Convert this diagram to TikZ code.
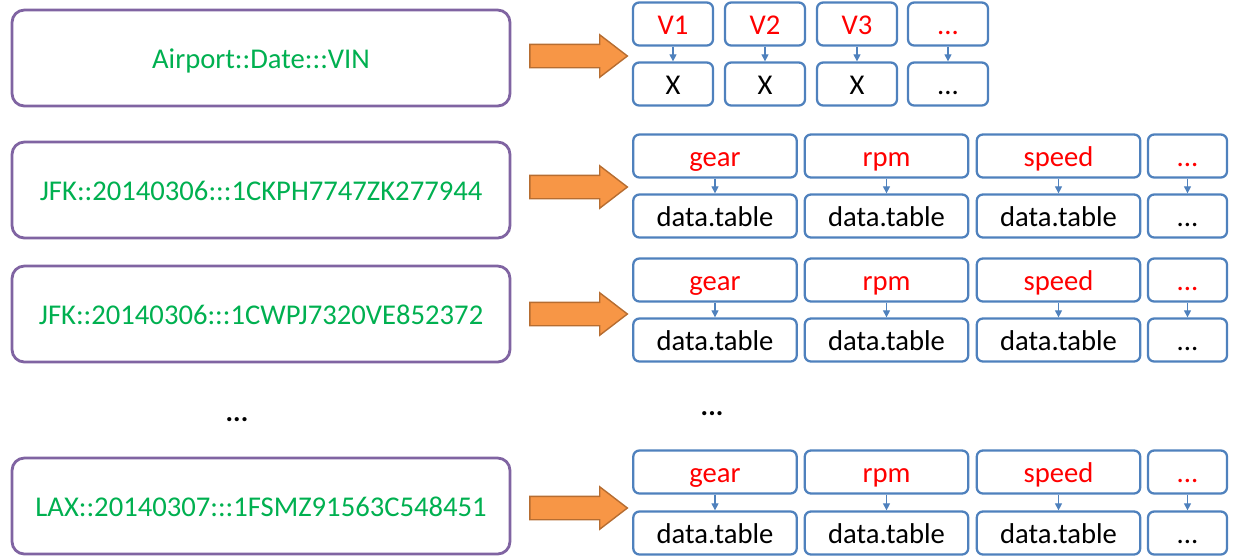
\documentclass[tikz,border=0pt]{standalone}
\usepackage{fontspec}
\setmainfont{Carlito}
\usetikzlibrary{shapes.arrows,arrows.meta}

\definecolor{keyline}{RGB}{128,100,162}
\definecolor{keytext}{RGB}{0,176,80}
\definecolor{cellline}{RGB}{79,129,189}
\definecolor{bigorange}{RGB}{247,150,70}
\definecolor{bigorangeline}{RGB}{182,109,49}

\tikzset{
  keybox/.style={draw=keyline, line width=1.6pt, rounded corners=7pt,
    minimum width=9.96cm, minimum height=1.92cm, text=keytext,
    text height=11.6pt, text depth=0pt,
    font=\fontsize{16.3}{18}\selectfont},
  namecell/.style={draw=cellline, line width=1.3pt, rounded corners=3.5pt,
    minimum height=0.86cm, text=red, text height=11.6pt, text depth=0pt,
    font=\fontsize{16.3}{18}\selectfont},
  valcell/.style={namecell, text=black},
  narrow/.style={minimum width=1.6cm},
  wide/.style={minimum width=3.27cm},
  tailcell/.style={minimum width=1.58cm},
  bigarrow/.style={single arrow, draw=bigorangeline, fill=bigorange,
    line width=0.8pt, inner xsep=0pt, inner ysep=0.22cm,
    minimum height=1.95cm, single arrow head extend=0.19cm,
    single arrow tip angle=75},
  cellarrow/.style={draw=cellline, line width=0.6pt,
    -{Triangle[length=4pt,width=4pt]}}
}

\begin{document}
\begin{tikzpicture}[x=0.02cm, y=-0.02cm]
      \useasboundingbox (0,0) rectangle (1233,556);

      % keys on the left
      \node[keybox] (K0) at (261,58)  {Airport::Date:::VIN};
      \node[keybox] (K1) at (261,190) {JFK::20140306:::1CKPH7747ZK277944};
      \node[keybox] (K2) at (261,314) {JFK::20140306:::1CWPJ7320VE852372};
      \node[keybox] (K3) at (261,506) {LAX::20140307:::1FSMZ91563C548451};

      \node (KD) at (237,420) {\fontsize{16}{18}\selectfont\bfseries ...};
      \node (VD) at (712,414) {\fontsize{16}{18}\selectfont\bfseries ...};

      % big arrows
      \node[bigarrow] (A0) at (571,56)  {};
      \node[bigarrow] (A1) at (571,187) {};
      \node[bigarrow] (A2) at (571,314) {};
      \node[bigarrow] (A3) at (571,508) {};

      % header row
      \node[namecell, narrow] (V1) at (673,24) {V1};
      \node[namecell, narrow] (V2) at (765,24) {V2};
      \node[namecell, narrow] (V3) at (857,24) {V3};
      \node[namecell, narrow] (V4) at (948,24) {...};
      \node[valcell, narrow] (X1) at (673,84) {X};
      \node[valcell, narrow] (X2) at (765,84) {X};
      \node[valcell, narrow] (X3) at (857,84) {X};
      \node[valcell, narrow] (X4) at (948,84) {...};

      \draw[cellarrow] (V1) to (X1);
      \draw[cellarrow] (V2) to (X2);
      \draw[cellarrow] (V3) to (X3);
      \draw[cellarrow] (V4) to (X4);

      % one row of columns per key
      \foreach \r/\ya/\yb in {1/156/216, 2/280/340, 3/472/533}{
        \node[namecell, wide]     (G\r) at (715,\ya)    {gear};
        \node[namecell, wide]     (R\r) at (886.5,\ya)  {rpm};
        \node[namecell, wide]     (S\r) at (1058.5,\ya) {speed};
        \node[namecell, tailcell] (E\r) at (1187.5,\ya) {...};
        \node[valcell, wide]     (GD\r) at (715,\yb)    {data.table};
        \node[valcell, wide]     (RD\r) at (886.5,\yb)  {data.table};
        \node[valcell, wide]     (SD\r) at (1058.5,\yb) {data.table};
        \node[valcell, tailcell] (ED\r) at (1187.5,\yb) {...};
        \draw[cellarrow] (G\r) to (GD\r);
        \draw[cellarrow] (R\r) to (RD\r);
        \draw[cellarrow] (S\r) to (SD\r);
        \draw[cellarrow] (E\r) to (ED\r);
      }
  \end{tikzpicture}
\end{document}
